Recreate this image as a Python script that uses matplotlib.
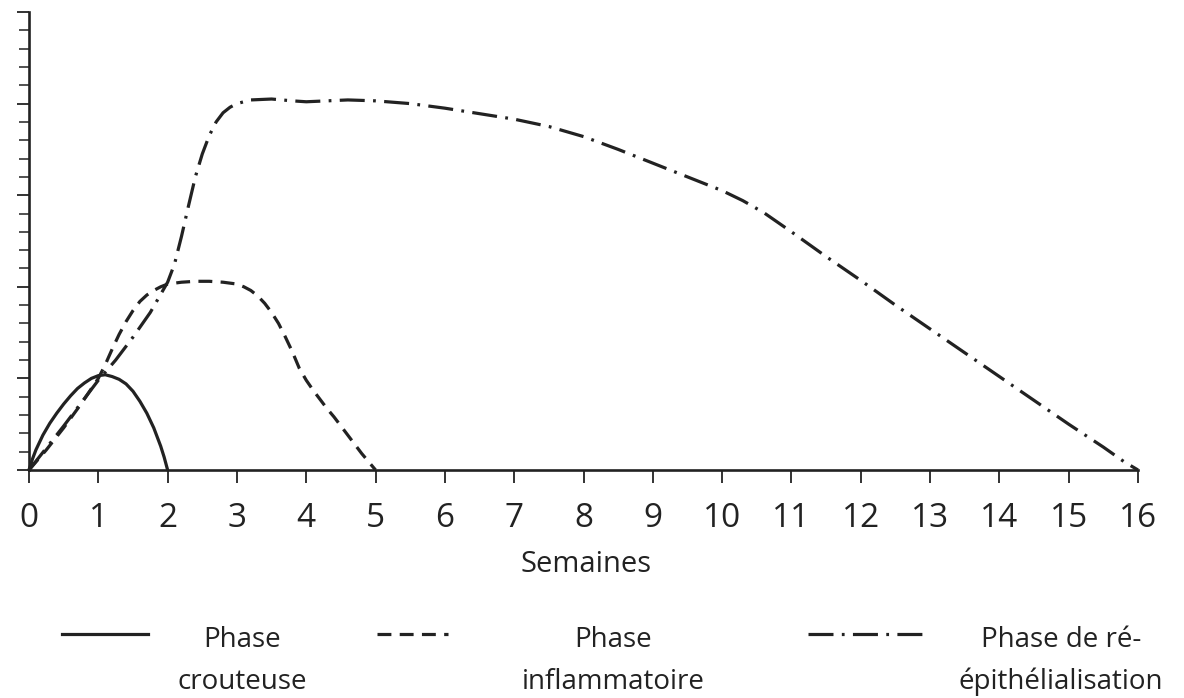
import matplotlib
matplotlib.use("Agg")
import matplotlib.pyplot as plt
from matplotlib.lines import Line2D
from matplotlib.ticker import MultipleLocator

plt.rcParams['font.family'] = ['Open Sans', 'DejaVu Sans']
plt.rcParams['lines.scale_dashes'] = False

# ---- data ----
x_tick_labels = [str(i) for i in range(17)]
x_label = "Semaines"

crout_x = [0, 0.05, 0.1, 0.2, 0.3, 0.4, 0.5, 0.6, 0.7, 0.8, 0.9, 1.0, 1.1, 1.2,
           1.3, 1.4, 1.5, 1.6, 1.7, 1.8, 1.9, 1.95, 2.0]
crout_y = [0, 0.12, 0.22, 0.38, 0.51, 0.62, 0.72, 0.81, 0.89, 0.95, 1.0, 1.03, 1.04,
           1.02, 0.99, 0.94, 0.86, 0.75, 0.62, 0.46, 0.26, 0.14, 0]

infl_x = [0, 0.25, 0.5, 0.75, 1.0, 1.1, 1.2, 1.3, 1.4, 1.5, 1.6, 1.7, 1.8, 1.9,
          2.0, 2.2, 2.4, 2.6, 2.8, 3.0, 3.1, 3.2, 3.3, 3.4, 3.5, 3.6, 3.7, 3.8,
          3.9, 4.0, 4.1, 4.2, 4.3, 4.4, 4.5, 4.6, 4.7, 4.8, 4.9, 5.0]
infl_y = [0, 0.22, 0.46, 0.72, 1.0, 1.15, 1.32, 1.48, 1.62, 1.74, 1.84, 1.91, 1.96,
          2.0, 2.03, 2.05, 2.06, 2.06, 2.05, 2.03, 2.0, 1.96, 1.90, 1.82, 1.72, 1.60,
          1.45, 1.29, 1.11, 0.98, 0.87, 0.77, 0.67, 0.58, 0.48, 0.38, 0.28, 0.18,
          0.09, 0]

epi_x = [0, 0.5, 1.0, 1.25, 1.5, 1.75, 2.0, 2.1, 2.2, 2.3, 2.4, 2.5, 2.6, 2.7,
         2.8, 2.9, 3.0, 3.2, 3.5, 3.8, 4.0, 4.3, 4.6, 5.0, 5.5, 6.0, 6.5, 7.0,
         7.5, 8.0, 8.5, 9.0, 9.5, 10.0, 10.3, 10.6, 11.0, 11.5, 12.0, 12.5, 13.0,
         13.5, 14.0, 14.5, 15.0, 15.5, 15.8, 16.0]
epi_y = [0, 0.48, 0.98, 1.2, 1.45, 1.72, 2.05, 2.25, 2.55, 2.88, 3.2, 3.45, 3.65,
         3.8, 3.9, 3.96, 4.0, 4.04, 4.05, 4.03, 4.02, 4.03, 4.04, 4.03, 4.0, 3.95,
         3.89, 3.83, 3.75, 3.64, 3.5, 3.35, 3.2, 3.05, 2.94, 2.81, 2.6, 2.33, 2.07,
         1.8, 1.54, 1.28, 1.02, 0.76, 0.5, 0.25, 0.09, 0]

legend_lines = [["Phase", "crouteuse"], ["Phase", "inflammatoire"],
                ["Phase de ré-", "épithélialisation"]]

# ---- figure ----
W, H = 1184, 698
fig = plt.figure(figsize=(W / 100, H / 100), dpi=100)
ax = fig.add_axes([29 / W, 228 / H, 1109 / W, 458 / H])

col = '#222222'
lw = 2.3
styles = ['-', (0, (10, 6)), (0, (18, 6, 2, 6))]
series = [(crout_x, crout_y), (infl_x, infl_y), (epi_x, epi_y)]
for (xs, ys), ls in zip(series, styles):
    ax.plot(xs, ys, color=col, lw=lw, linestyle=ls, clip_on=False,
            solid_joinstyle='round', solid_capstyle='round')

ax.set_xlim(0, 16)
ax.set_ylim(0, 5)
for s in ['top', 'right']:
    ax.spines[s].set_visible(False)
for s in ['left', 'bottom']:
    ax.spines[s].set_linewidth(1.9)
    ax.spines[s].set_color(col)

ax.set_xticks(range(17))
ax.set_xticklabels(x_tick_labels, fontsize=24, color=col)
ax.tick_params(axis='x', direction='out', length=9, width=1.3, pad=14, colors=col)
ax.yaxis.set_major_locator(MultipleLocator(1))
ax.yaxis.set_minor_locator(MultipleLocator(0.2))
ax.set_yticklabels([])
ax.tick_params(axis='y', which='major', direction='out', length=9, width=1.3, colors=col)
ax.tick_params(axis='y', which='minor', direction='out', length=7, width=1.1, colors=col)

fig.text(586 / W, 1 - 572 / H, x_label, ha='center', va='baseline',
         fontsize=21, color=col)

# ---- legend (manual) ----
sample_px = [(62, 148), (377, 448), (808, 922)]
text_cx = [242, 613, 1061]
for (x0, x1), ls, cx, lines in zip(sample_px, styles, text_cx, legend_lines):
    fig.add_artist(Line2D([x0 / W, x1 / W], [1 - 634 / H, 1 - 634 / H],
                          transform=fig.transFigure, color=col, lw=lw,
                          linestyle=ls))
    fig.text(cx / W, 1 - 647 / H, lines[0], ha='center', va='baseline',
             fontsize=20, color=col)
    fig.text(cx / W, 1 - 689 / H, lines[1], ha='center', va='baseline',
             fontsize=20, color=col)

fig.savefig("out.png", dpi=100)
